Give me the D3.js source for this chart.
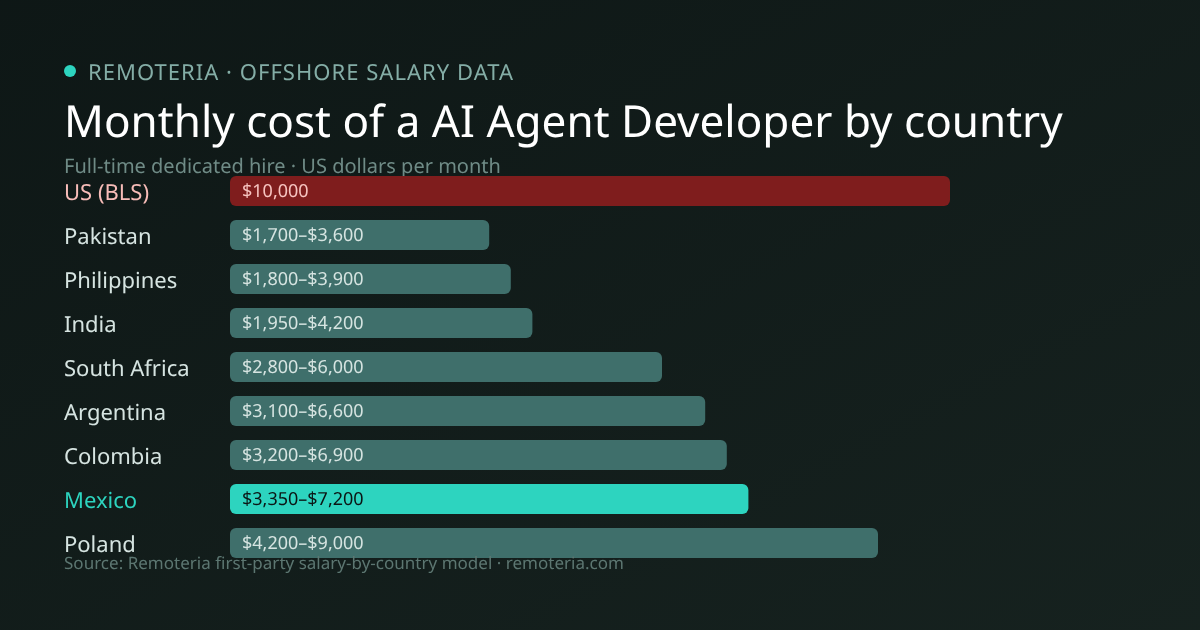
<!DOCTYPE html>
<html>
<head>
<meta charset="utf-8">
<script src="https://cdn.jsdelivr.net/npm/d3@7"></script>
<style>
    html, body { margin: 0; padding: 0; background: #0f1716; }
    svg { display: block; font-family: "Noto Sans", sans-serif; text-rendering: geometricPrecision; will-change: transform; }
</style>
</head>
<body>
<svg id="chart" width="1200" height="630"></svg>
<script>
// Chart data
const countries = ["US (BLS)", "Pakistan", "Philippines", "India", "South Africa", "Argentina", "Colombia", "Mexico", "Poland"];
const lowValues = [null, 1700, 1800, 1950, 2800, 3100, 3200, 3350, 4200];
const highValues = [10000, 3600, 3900, 4200, 6000, 6600, 6900, 7200, 9000];

const eyebrow = "REMOTERIA · OFFSHORE SALARY DATA";
const title = "Monthly cost of a AI Agent Developer by country";
const subtitle = "Full-time dedicated hire · US dollars per month";
const source = "Source: Remoteria first-party salary-by-country model · remoteria.com";

const svg = d3.select("#chart");

// Background gradient
const defs = svg.append("defs");
const bg = defs.append("linearGradient")
    .attr("id", "bg")
    .attr("gradientUnits", "userSpaceOnUse")
    .attr("x1", 285).attr("y1", -285)
    .attr("x2", 915).attr("y2", 915);
bg.append("stop").attr("offset", "0%").attr("stop-color", "#0d1615");
bg.append("stop").attr("offset", "100%").attr("stop-color", "#172320");

svg.append("rect")
    .attr("width", 1200)
    .attr("height", 630)
    .attr("fill", "url(#bg)");

// Header
svg.append("circle")
    .attr("cx", 70).attr("cy", 71).attr("r", 6)
    .attr("fill", "#2dd4bf");

svg.append("text")
    .attr("x", 88).attr("y", 80)
    .attr("font-size", 22)
    .attr("letter-spacing", 1.03)
    .attr("fill", "#84ada6")
    .text(eyebrow);

svg.append("text")
    .attr("x", 64).attr("y", 137)
    .attr("font-size", 44)
    .attr("letter-spacing", 0.02)
    .attr("fill", "#ffffff")
    .text(title);

svg.append("text")
    .attr("x", 64).attr("y", 173)
    .attr("font-size", 20)
    .attr("fill", "#6f8b86")
    .text(subtitle);

// Scales
const xScale = d3.scaleLinear()
    .domain([0, 10000])
    .range([230, 950]);

const yScale = d3.scaleBand()
    .domain(countries)
    .range([176, 558])
    .paddingInner(14 / 44);

const rows = countries.map((name, i) => ({
    name: name,
    low: lowValues[i],
    high: highValues[i]
}));

function barColor(d) {
    if (d.name === "US (BLS)") return "#7f1d1d";
    if (d.name === "Mexico") return "#2dd4bf";
    return "#3f6f6b";
}

function labelColor(d) {
    if (d.name === "US (BLS)") return "#f7bcb8";
    if (d.name === "Mexico") return "#2dd4bf";
    return "#d6e4e1";
}

function valueColor(d) {
    if (d.name === "US (BLS)") return "#f7c4c0";
    if (d.name === "Mexico") return "#0b1514";
    return "#d6e4e1";
}

function valueText(d) {
    const fmt = d3.format("$,");
    return d.low === null ? fmt(d.high) : `${fmt(d.low)}–${fmt(d.high)}`;
}

// Bars
svg.selectAll("rect.bar")
    .data(rows)
    .enter()
    .append("rect")
    .attr("class", "bar")
    .attr("x", xScale(0))
    .attr("y", d => yScale(d.name))
    .attr("width", d => xScale(d.high) - xScale(0))
    .attr("height", yScale.bandwidth())
    .attr("rx", 6)
    .attr("fill", barColor);

// Country labels
svg.selectAll("text.country")
    .data(rows)
    .enter()
    .append("text")
    .attr("class", "country")
    .attr("x", 64)
    .attr("y", d => yScale(d.name) + 24)
    .attr("font-size", 22)
    .attr("fill", labelColor)
    .text(d => d.name);

// Value labels inside the bars
svg.selectAll("text.value")
    .data(rows)
    .enter()
    .append("text")
    .attr("class", "value")
    .attr("x", xScale(0) + 12)
    .attr("y", d => yScale(d.name) + 21)
    .attr("font-size", 18)
    .attr("fill", valueColor)
    .text(valueText);

// Source line, painted over the last bar like the original
svg.append("text")
    .attr("x", 64).attr("y", 569)
    .attr("font-size", 17)
    .attr("letter-spacing", 0.015)
    .attr("fill", "#5c7671")
    .text(source);
</script>
</body>
</html>
